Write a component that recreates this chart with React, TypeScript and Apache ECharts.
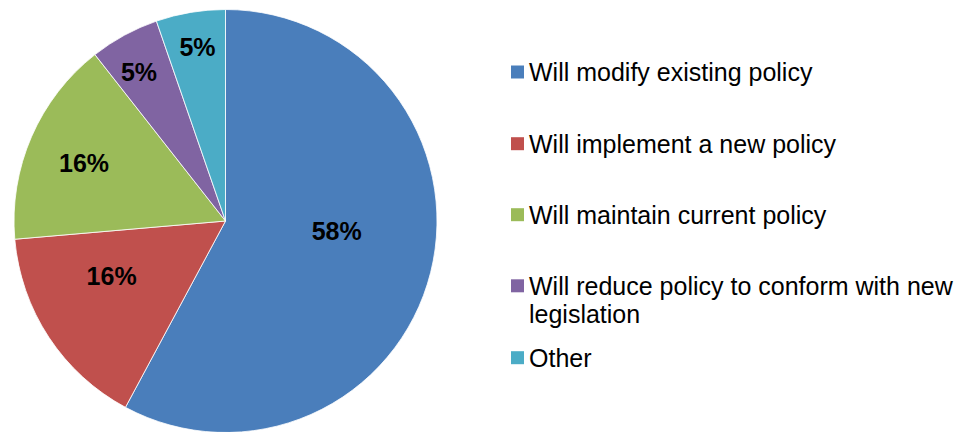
import React, { useEffect, useRef } from "react";
import * as echarts from "echarts";

const CATEGORIES = [
  "Will modify existing policy",
  "Will implement a new policy",
  "Will maintain current policy",
  "Will reduce policy to conform with new legislation",
  "Other",
];
const LEGEND_TEXT = [
  "Will modify existing policy",
  "Will implement a new policy",
  "Will maintain current policy",
  "\nWill reduce policy to conform with new\nlegislation",
  "Other",
];
const VALUES = [57.9, 15.8, 15.8, 5.3, 5.3];
const VALUE_LABELS = ["58%", "16%", "16%", "5%", "5%"];
const COLORS = ["#4A7EBB", "#C0504D", "#9BBB59", "#8064A2", "#4BACC6"];

// label placement tweaks (angle offset from slice middle, radius fraction)
const LABEL_ANGLE_SHIFT = [-9, 7.4, -1.2, -1.6, 0.4];
const LABEL_RADIUS_FRAC = [0.528, 0.599, 0.723, 0.813, 0.834];
const LEGEND_CENTERS = [72, 143.7, 214.7, 285.8, 357.7];

const FONT = "'Liberation Sans', Arial, sans-serif";
const CX = 225.5;
const CY = 221;
const R = 211.5;

export default function App() {
  const ref = useRef<HTMLDivElement>(null);
  useEffect(() => {
    document.body.style.margin = "0";
    if (!ref.current) return;
    const chart = echarts.init(ref.current, undefined, { renderer: "svg" });
    const total = VALUES.reduce((a, b) => a + b, 0);
    const midAngles: number[] = [];
    let acc = 0;
    VALUES.forEach((v) => {
      midAngles.push(((acc + v / 2) / total) * 360);
      acc += v;
    });

    const legends = CATEGORIES.map((name, i) => {
      const lines = LEGEND_TEXT[i].split("\n").length;
      return {
        data: [name],
        orient: "vertical",
        left: 511,
        top: LEGEND_CENTERS[i] - 14 * lines,
        padding: 0,
        itemWidth: 13,
        itemHeight: 13,
        icon: "rect",
        selectedMode: false,
        itemStyle: { borderWidth: 0 },
        formatter: (n: string) => LEGEND_TEXT[CATEGORIES.indexOf(n)],
        textStyle: {
          fontFamily: FONT,
          fontSize: 25,
          color: "#000",
          lineHeight: 28,
        },
      };
    });

    chart.setOption({
      animation: false,
      backgroundColor: "#fff",
      legend: legends,
      series: [
        {
          type: "pie",
          center: [CX, CY],
          radius: R,
          startAngle: 90,
          clockwise: true,
          avoidLabelOverlap: false,
          silent: true,
          itemStyle: { borderColor: "#ffffff", borderWidth: 0.8 },
          label: {
            show: true,
            position: "inside",
            formatter: (p: any) => VALUE_LABELS[p.dataIndex],
            fontFamily: FONT,
            fontWeight: "bold",
            fontSize: 25,
            color: "#000",
          },
          labelLine: { show: false },
          labelLayout: (p: any) => {
            const i = p.dataIndex;
            const a = ((midAngles[i] + LABEL_ANGLE_SHIFT[i]) * Math.PI) / 180;
            const d = R * LABEL_RADIUS_FRAC[i];
            return {
              x: CX + d * Math.sin(a),
              y: CY - d * Math.cos(a),
              align: "center",
              verticalAlign: "middle",
            };
          },
          data: CATEGORIES.map((name, i) => ({
            name,
            value: VALUES[i],
            itemStyle: { color: COLORS[i] },
          })),
        },
      ],
    });
    return () => chart.dispose();
  }, []);
  return <div ref={ref} style={{ width: 971, height: 432 }} />;
}
